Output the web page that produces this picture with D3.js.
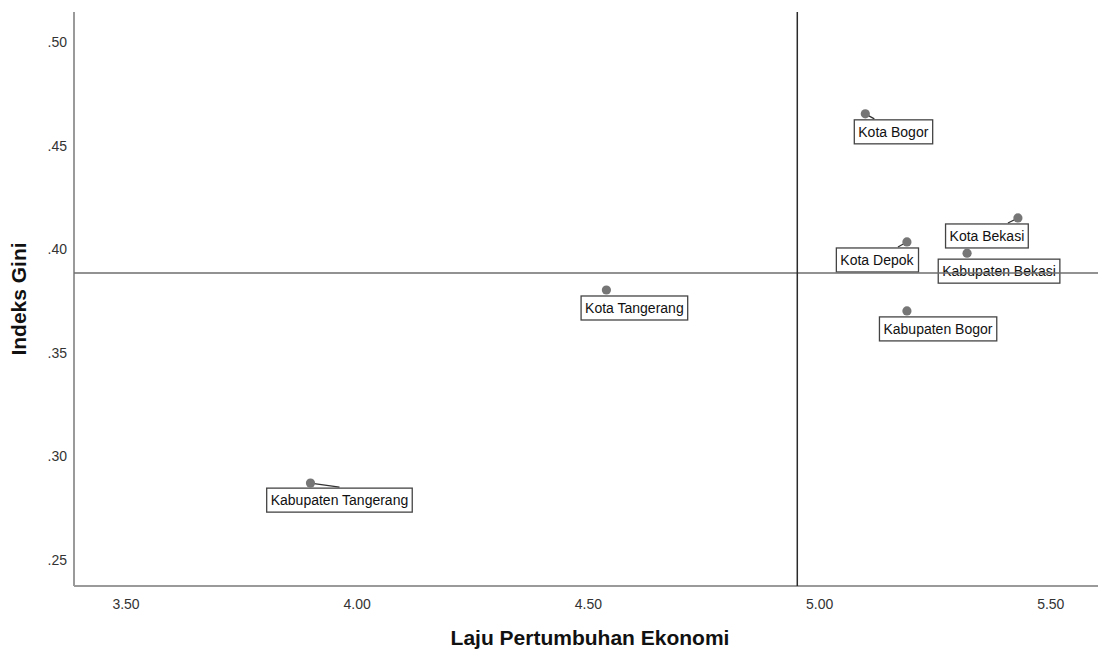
<!DOCTYPE html>
<html>
<head>
<meta charset="utf-8">
<script src="https://cdn.jsdelivr.net/npm/d3@7"></script>
<style>
  html, body { margin: 0; padding: 0; background: #fff; }
  svg { display: block; font-family: "Liberation Sans", Arial, sans-serif; }
</style>
</head>
<body>
<svg id="chart" width="1098" height="652"></svg>
<script>
// Regions and their values
const regions = ["Kota Bogor", "Kota Bekasi", "Kota Depok", "Kabupaten Bekasi",
                 "Kabupaten Bogor", "Kota Tangerang", "Kabupaten Tangerang"];
const growth = [5.10, 5.43, 5.19, 5.32, 5.19, 4.54, 3.90];        // Laju Pertumbuhan Ekonomi
const gini   = [0.4655, 0.4152, 0.4036, 0.3982, 0.3703, 0.3804, 0.2871]; // Indeks Gini

// Axis ticks
const xTicks = [3.5, 4.0, 4.5, 5.0, 5.5];
const yTicks = [0.25, 0.30, 0.35, 0.40, 0.45, 0.50];

// Label box placement relative to each point (box centre dx, box top dy, leader end lx/ly)
const labelLayout = [
  { dx: 28,  dy: 6, lx: 9,   ly: 5 },
  { dx: -31, dy: 6, lx: -10, ly: 5 },
  { dx: -30, dy: 6, lx: -9,  ly: 5 },
  { dx: 32,  dy: 6, lx: 0,   ly: 0 },
  { dx: 31,  dy: 6, lx: 0,   ly: 0 },
  { dx: 28,  dy: 6, lx: 0,   ly: 0 },
  { dx: 29,  dy: 5, lx: 29,  ly: 4 }
];

const points = regions.map((name, i) => ({ name, x: growth[i], y: gini[i], lay: labelLayout[i] }));

const svg = d3.select("#chart");
const plotL = 74, plotR = 1098, plotT = 12, plotB = 586;

const x = d3.scaleLinear().domain([3.3886, 5.6032]).range([plotL, plotR]);
const y = d3.scaleLinear().domain([0.2374, 0.5147]).range([plotB, plotT]);

// Axes
const xAxis = d3.axisBottom(x).tickValues(xTicks).tickSize(0).tickPadding(13)
  .tickFormat(d3.format(".2f"));
const yAxis = d3.axisLeft(y).tickValues(yTicks).tickSize(0).tickPadding(7)
  .tickFormat(d => d3.format(".2f")(d).replace(/^0/, ""));

const gx = svg.append("g").attr("transform", `translate(0,${plotB})`).call(xAxis);
const gy = svg.append("g").attr("transform", `translate(${plotL},0)`).call(yAxis);
[gx, gy].forEach(g => {
  g.select(".domain").attr("stroke", "#9a9a9a").attr("stroke-width", 2);
  g.selectAll(".tick text").attr("font-size", 14).attr("fill", "#333")
    .attr("font-family", "'Liberation Sans', Arial, sans-serif");
});
// extend domains to the full plot frame
gx.select(".domain").attr("d", `M${plotL},0H${plotR}`);
gy.select(".domain").attr("d", `M0,${plotT}V${plotB}`);

// Axis titles
svg.append("text")
  .attr("x", (plotL + plotR) / 2 + 4).attr("y", 645)
  .attr("text-anchor", "middle").attr("font-size", 21).attr("font-weight", "bold")
  .attr("fill", "#111").text("Laju Pertumbuhan Ekonomi");
svg.append("text")
  .attr("transform", `translate(26,${(plotT + plotB) / 2}) rotate(-90)`)
  .attr("text-anchor", "middle").attr("font-size", 21).attr("font-weight", "bold")
  .attr("fill", "#111").text("Indeks Gini");

// Labels with boxes and leader lines
const lab = svg.append("g");
points.forEach(p => {
  const px = x(p.x), py = y(p.y);
  const g = lab.append("g");
  if (p.lay.lx || p.lay.ly) {
    g.append("line")
      .attr("x1", px).attr("y1", py)
      .attr("x2", px + p.lay.lx).attr("y2", py + p.lay.ly)
      .attr("stroke", "#333").attr("stroke-width", 1.3);
  }
  const t = g.append("text")
    .attr("x", px + p.lay.dx).attr("y", py + p.lay.dy + 17)
    .attr("text-anchor", "middle").attr("font-size", 14).attr("fill", "#111")
    .text(p.name);
  const bb = t.node().getBBox();
  g.insert("rect", "text")
    .attr("x", bb.x - 4).attr("y", py + p.lay.dy)
    .attr("width", bb.width + 8).attr("height", 24)
    .attr("fill", "#fff").attr("stroke", "#444").attr("stroke-width", 1.3);
});

// Points
svg.append("g").selectAll("circle").data(points).join("circle")
  .attr("cx", d => x(d.x)).attr("cy", d => y(d.y)).attr("r", 4.6)
  .attr("fill", "#767676");

// Mean reference lines
const mx = d3.mean(growth), my = d3.mean(gini);
svg.append("line")
  .attr("x1", plotL).attr("x2", plotR).attr("y1", y(my)).attr("y2", y(my))
  .attr("stroke", "#6e6e6e").attr("stroke-width", 1.6);
svg.append("line")
  .attr("x1", x(mx)).attr("x2", x(mx)).attr("y1", plotT).attr("y2", plotB)
  .attr("stroke", "#2a2a2a").attr("stroke-width", 1.5);
</script>
</body>
</html>
